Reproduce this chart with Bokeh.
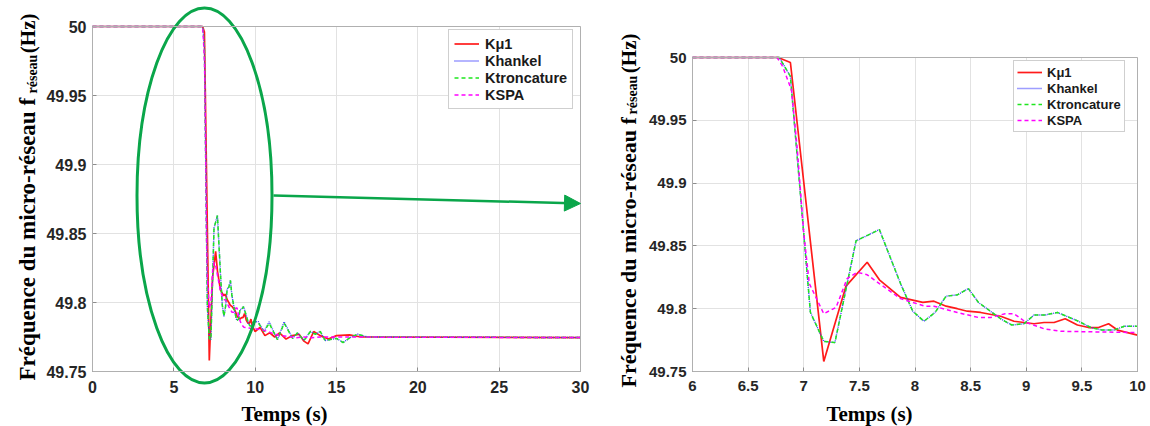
import math
from bokeh.plotting import figure
from bokeh.layouts import row
from bokeh.models import (FixedTicker, Arrow, NormalHead, Range1d, LinearAxis, Grid,
                          BoxAnnotation, Legend, LegendItem)
from bokeh.core.properties import value
from bokeh.embed import file_html
from bokeh.resources import INLINE

# ---------------- data ----------------
t_kmu1 = [0, 6.77, 6.88, 7.18, 7.38, 7.57, 7.68, 7.87, 8.07, 8.17,
          8.28, 8.38, 8.47, 8.59, 8.77, 8.89, 9.07, 9.16, 9.25, 9.35,
          9.46, 9.56, 9.65, 9.74, 9.82, 10.0, 10.3, 10.6, 10.9, 11.2,
          11.5, 11.9, 12.3, 12.7, 13.0, 13.25, 13.6, 14.0, 14.5, 15.0,
          15.8, 16.5, 17.5, 30]
f_kmu1 = [50, 50, 49.996, 49.758, 49.818, 49.837, 49.823, 49.809, 49.805, 49.806,
          49.802, 49.800, 49.798, 49.797, 49.794, 49.790, 49.788, 49.789, 49.789, 49.792,
          49.787, 49.785, 49.785, 49.788, 49.783, 49.779, 49.782, 49.776, 49.778, 49.775,
          49.778, 49.7735, 49.776, 49.777, 49.772, 49.770, 49.779, 49.776, 49.7735, 49.776,
          49.7765, 49.775, 49.775, 49.7746]

t_hankel = [0, 6.78, 6.88, 7.06, 7.18, 7.28, 7.47, 7.68, 7.87, 7.98,
            8.08, 8.18, 8.28, 8.38, 8.48, 8.57, 8.77, 8.87, 8.98, 9.07,
            9.17, 9.28, 9.47, 9.58, 9.68, 9.79, 9.88, 10.0, 10.2, 10.55,
            10.86, 11.37, 11.78, 12.3, 12.6, 13.0, 13.4, 13.7, 14.0, 14.3,
            15.0, 15.4, 15.9, 16.3, 16.9, 17.5, 30]
f_hankel = [50, 50, 49.985, 49.797, 49.774, 49.773, 49.854, 49.863, 49.820, 49.798,
            49.790, 49.797, 49.810, 49.811, 49.816, 49.805, 49.792, 49.787, 49.788, 49.795,
            49.795, 49.797, 49.790, 49.785, 49.783, 49.783, 49.786, 49.786, 49.786, 49.779,
            49.786, 49.773, 49.786, 49.774, 49.778, 49.7725, 49.779, 49.777, 49.779, 49.7725,
            49.774, 49.771, 49.775, 49.777, 49.775, 49.775, 49.7746]

t_tronc = [0, 6.78, 6.88, 7.06, 7.18, 7.28, 7.47, 7.68, 7.87, 7.98,
           8.08, 8.18, 8.28, 8.38, 8.48, 8.57, 8.77, 8.87, 8.98, 9.07,
           9.17, 9.28, 9.47, 9.58, 9.68, 9.79, 9.88, 10.0, 10.2, 10.55,
           10.86, 11.37, 11.78, 12.3, 12.6, 13.0, 13.4, 13.7, 14.0, 14.3,
           15.0, 15.4, 15.9, 16.3, 16.9, 17.5, 30]
f_tronc = [50, 50, 49.985, 49.797, 49.774, 49.773, 49.854, 49.863, 49.820, 49.798,
           49.790, 49.797, 49.810, 49.811, 49.816, 49.805, 49.792, 49.787, 49.788, 49.795,
           49.795, 49.797, 49.790, 49.785, 49.783, 49.783, 49.786, 49.786, 49.785, 49.779,
           49.785, 49.773, 49.785, 49.774, 49.778, 49.7725, 49.779, 49.777, 49.779, 49.7725,
           49.774, 49.771, 49.775, 49.777, 49.775, 49.775, 49.7746]

t_spa = [0, 6.76, 6.81, 6.89, 6.94, 7.0, 7.05, 7.18, 7.29, 7.39,
         7.48, 7.57, 7.68, 7.87, 8.09, 8.17, 8.38, 8.57, 8.68, 8.81,
         8.89, 9.0, 9.16, 9.31, 10.0, 10.5, 11.0, 11.5, 12.0, 12.5,
         13.0, 13.5, 14.0, 30]
f_spa = [50, 50, 49.993, 49.974, 49.929, 49.86, 49.82, 49.796, 49.801, 49.824,
         49.829, 49.827, 49.820, 49.808, 49.802, 49.802, 49.797, 49.793, 49.793, 49.796,
         49.796, 49.789, 49.784, 49.782, 49.781, 49.780, 49.778, 49.776, 49.7755, 49.7745,
         49.775, 49.7745, 49.775, 49.7746]

series_names = ["K\u03bc1", "Khankel", "Ktroncature", "KSPA"]

y_ticks = [49.75, 49.8, 49.85, 49.9, 49.95, 50.0]
y_tick_labels = ["49.75", "49.8", "49.85", "49.9", "49.95", "50"]
x_ticks_full = [0, 5, 10, 15, 20, 25, 30]
x_tick_labels_full = ["0", "5", "10", "15", "20", "25", "30"]
x_ticks_zoom = [6.0, 6.5, 7.0, 7.5, 8.0, 8.5, 9.0, 9.5, 10.0]
x_tick_labels_zoom = ["6", "6.5", "7", "7.5", "8", "8.5", "9", "9.5", "10"]

y_title_main = "Fréquence du micro-réseau f"
y_title_sub = "réseau"
y_title_unit = "(Hz)"
x_title = "Temps (s)"

# ---------------- styling ----------------
STYLES = [
    dict(line_color="#ff1a1a", line_width=1.7, line_dash="solid"),
    dict(line_color="#3c3cff", line_width=1.4, line_dash="1 1"),
    dict(line_color="#1ee61e", line_width=1.5, line_dash="4 3"),
    dict(line_color="#ff00ff", line_width=1.5, line_dash="4 3"),
]
SERIES = [(t_kmu1, f_kmu1), (t_hankel, f_hankel), (t_tronc, f_tronc), (t_spa, f_spa)]
GREEN = "#0aa64a"
TICK_COLOR = "#262626"
Y0, Y1 = 49.75, 50.0


class Panel:
    """A figure whose frame fills the canvas; the data box sits at pixel box (L,T,R,B)."""

    def __init__(self, cw, ch, box, xr, xticks, xlabels, tick_size):
        L, T, R, B = box
        self.L, self.T = L, T
        self.x0, x1 = xr
        self.sx = (R - L) / (x1 - self.x0)
        self.sy = (B - T) / (Y1 - Y0)
        p = figure(width=cw, height=ch,
                   x_range=Range1d(self.x0 - L / self.sx, x1 + (cw - R) / self.sx),
                   y_range=Range1d(Y0 - (ch - B) / self.sy, Y1 + T / self.sy),
                   x_axis_type=None, y_axis_type=None, title=None, min_border=0,
                   output_backend="svg", toolbar_location=None,
                   background_fill_color="white", border_fill_color="white",
                   outline_line_color=None)
        self.p = p
        xt = FixedTicker(ticks=xticks)
        yt = FixedTicker(ticks=y_ticks)

        # grid restricted to the data box
        try:
            p.add_layout(Grid(dimension=0, ticker=xt, bounds=(self.x0, x1),
                              cross_bounds=(Y0, Y1), grid_line_color="#e2e2e2"))
            p.add_layout(Grid(dimension=1, ticker=yt, bounds=(Y0, Y1),
                              cross_bounds=(self.x0, x1), grid_line_color="#e2e2e2"))
        except Exception:
            p.segment(x0=xticks, x1=xticks, y0=[Y0] * len(xticks), y1=[Y1] * len(xticks),
                      line_color="#e2e2e2", line_width=1)
            p.segment(x0=[self.x0] * len(y_ticks), x1=[x1] * len(y_ticks), y0=y_ticks,
                      y1=y_ticks, line_color="#e2e2e2", line_width=1)
        p.add_layout(BoxAnnotation(left=self.x0, right=x1, bottom=Y0, top=Y1,
                                   fill_color=None, fill_alpha=0,
                                   line_color="#b0b0b0", line_alpha=1.0, line_width=1))

        self.renderers = []
        for (t, f), st in zip(SERIES, STYLES):
            # keep only the visible time window (the series are flat at 50 before it)
            pts = [(max(tv, self.x0), fv) for tv, fv in zip(t, f) if tv <= x1]
            self.renderers.append(p.line([a for a, _ in pts], [b for _, b in pts], **st))

        xa = LinearAxis(ticker=xt, fixed_location=Y0, bounds=(self.x0, x1))
        ya = LinearAxis(ticker=yt, fixed_location=self.x0, bounds=(Y0, Y1))
        xa.major_label_overrides = {float(k): v for k, v in zip(xticks, xlabels)}
        ya.major_label_overrides = {float(k): v for k, v in zip(y_ticks, y_tick_labels)}
        for ax in (xa, ya):
            ax.major_label_text_font = "Liberation Sans"
            ax.major_label_text_font_style = "bold"
            ax.major_label_text_font_size = tick_size
            ax.major_label_text_color = TICK_COLOR
            ax.axis_line_color = "#8c8c8c"
            ax.major_tick_line_color = "#8c8c8c"
            ax.major_tick_in = 4
            ax.major_tick_out = 0
            ax.minor_tick_line_color = None
        xa.major_label_standoff = 9
        ya.major_label_standoff = 6
        p.add_layout(xa, "below")
        p.add_layout(ya, "left")

    def X(self, px):
        return self.x0 + (px - self.L) / self.sx

    def Y(self, py):
        return Y1 - (py - self.T) / self.sy

    def legend(self, left_px, bottom_px, ch, size, pad, lh, gw, standoff):
        items = [LegendItem(label=n, renderers=[r]) for n, r in zip(series_names, self.renderers)]
        lg = Legend(items=items, location=(left_px, ch - bottom_px), padding=pad, spacing=0,
                    glyph_width=gw, glyph_height=lh, label_height=lh, label_standoff=standoff,
                    label_text_font="Liberation Sans", label_text_font_style="bold",
                    label_text_font_size=size, label_text_color="#1a1a1a",
                    border_line_color="#a0a0a0", border_line_width=1,
                    background_fill_color="white", background_fill_alpha=1.0, margin=0)
        self.p.add_layout(lg, "center")

    def titles(self, main_bx, sub_bx, main_start, sub_start, unit_end, main_size, sub_size,
               unit_size, xt_cx, xt_by, xt_size):
        p = self.p
        common = dict(text_font=value("Liberation Serif"), text_font_style="bold",
                      text_color="black", text_baseline="alphabetic", angle=math.pi / 2)
        p.text(x=[self.X(main_bx)], y=[self.Y(main_start)], text=[y_title_main],
               text_align="left", text_font_size=main_size, **common)
        p.text(x=[self.X(sub_bx)], y=[self.Y(sub_start)], text=[y_title_sub],
               text_align="left", text_font_size=sub_size, **common)
        p.text(x=[self.X(main_bx)], y=[self.Y(unit_end)], text=[y_title_unit],
               text_align="right", text_font_size=unit_size, **common)
        p.text(x=[self.X(xt_cx)], y=[self.Y(xt_by)], text=[x_title], text_align="center",
               text_baseline="alphabetic", text_font=value("Liberation Serif"),
               text_font_style="bold", text_font_size=xt_size, text_color="black")


# ---------------- left: full time range ----------------
LW, LH = 600, 426
left = Panel(LW, LH, (92, 26, 580, 371), (0, 30), x_ticks_full, x_tick_labels_full, "16px")
left.legend(448, 109, LH, "14.5px", 5, 17, 25, 6)
left.titles(27, 32, 380, 93, 13, "23px", "14px", "21px", 284, 413, "21px")

# green ellipse and arrow (decoration)
lp = left.p
lp.ellipse(x=[left.X(204)], y=[left.Y(195)], width=[135 / left.sx], height=[375 / left.sy],
           fill_color=None, line_color=GREEN, line_width=3)
lp.add_layout(Arrow(x_start=left.X(273), y_start=left.Y(195),
                    x_end=left.X(580), y_end=left.Y(203),
                    line_color=GREEN, line_width=2.5,
                    end=NormalHead(size=16, fill_color=GREEN, line_color=GREEN)))

# ---------------- right: zoom 6-10 s ----------------
RW, RH = 550, 426
right = Panel(RW, RH, (92, 57, 537, 371), (6, 10), x_ticks_zoom, x_tick_labels_zoom, "15px")
right.legend(413, 132, RH, "13px", 3, 16, 25, 5)
right.titles(28, 32, 387, 114, 33, "22px", "14px", "21px", 269, 413, "21px")

layout = row(left.p, right.p)
open("out.html", "w").write(file_html(layout, INLINE))
